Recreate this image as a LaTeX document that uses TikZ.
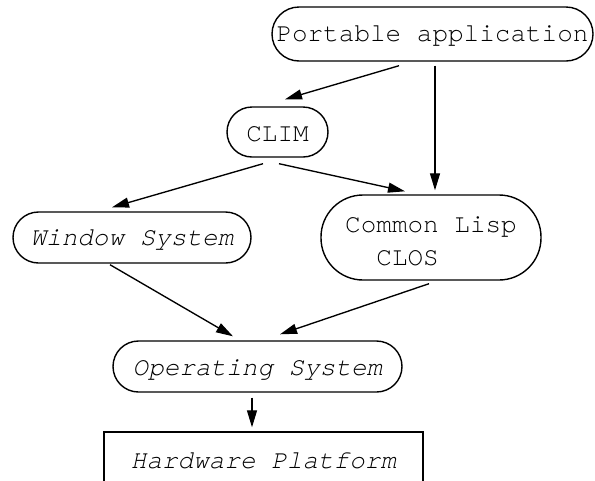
\documentclass[tikz,border=0pt]{standalone}
\usepackage{fontspec}
\newfontfamily\cour{texgyrecursor}[Extension=.otf, UprightFont=*-regular, ItalicFont=*-italic, BoldFont=*-bold]
\usetikzlibrary{arrows.meta}
\newcommand{\lowr}[2]{\raisebox{-#1}[\height][\depth]{#2}}
\tikzset{
  pill/.style={draw, line width=1.4pt, rounded corners=#1, inner sep=0pt, font={\cour\fontsize{26}{33}\selectfont}},
  plainbox/.style={draw, line width=1.4pt, inner sep=0pt, font={\cour\fontsize{26}{33}\selectfont}},
  arr/.style={line width=1.35pt, -{Triangle[length=17pt,width=10pt]}}
}
\begin{document}
\begin{tikzpicture}[x=1pt,y=-1pt]
\useasboundingbox (0,0) rectangle (595,480);
\clip (0,0) rectangle (595,480);
\node[pill=27pt, minimum width=321pt, minimum height=54pt] (pa) at (432.5,34) {\lowr{2pt}{Portable application}};
\node[pill=25pt, minimum width=101pt, minimum height=50pt] (clim) at (277.5,132) {\lowr{2pt}{CLIM}};
\node[pill=25.5pt, minimum width=238pt, minimum height=51pt] (win) at (132,237.5) {\lowr{2.5pt}{\itshape Window System}};
\node[pill=42pt, minimum width=220pt, minimum height=85pt] (cl) at (431,237.5) {\lowr{5pt}{\begin{tabular}{@{}l@{}}Common Lisp\\\hspace*{31.2pt}CLOS\end{tabular}}};
\node[pill=25.5pt, minimum width=289pt, minimum height=51pt] (os) at (257.5,366.5) {\lowr{3pt}{\itshape Operating System}};
\node[plainbox, minimum width=319pt, minimum height=56pt] (hw) at (263.5,460) {\lowr{1pt}{\itshape Hardware Platform}};
\draw[arr] ([shift={(-33.5,4)}]pa.south) -- ([shift={(7.5,-7)}]clim.north);
\draw[arr] ([shift={(2.5,4)}]pa.south) -- ([shift={(4,-4)}]cl.north);
\draw[arr] ([shift={(-14.5,6)}]clim.south) -- ([shift={(-20,-4)}]win.north);
\draw[arr] ([shift={(1.5,6)}]clim.south) -- ([shift={(-26,-3)}]cl.north);
\draw[arr] ([shift={(-22,1)}]win.south) -- ([shift={(-24.5,-4)}]os.north);
\draw[arr] ([shift={(-2,3)}]cl.south) -- ([shift={(22.5,-6)}]os.north);
\draw[arr] ([shift={(-5.5,5)}]os.south) -- ([shift={(-11.5,-4)}]hw.north);
\end{tikzpicture}
\end{document}
